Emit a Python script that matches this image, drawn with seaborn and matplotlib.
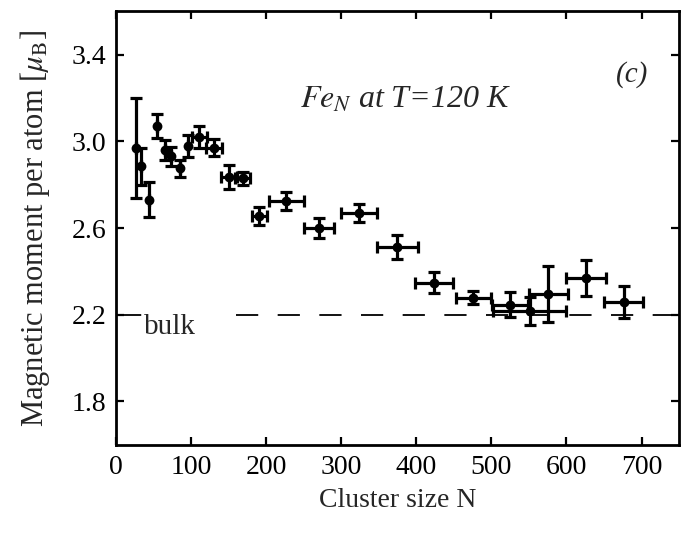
import numpy as np
import pandas as pd
import matplotlib
matplotlib.use("Agg")
import matplotlib.pyplot as plt
import seaborn as sns

# ---- data ----
cluster_size = [27, 33, 44, 55, 66, 73, 86, 96, 111, 131, 151, 169, 191, 227,
                270, 324, 375, 424, 476, 525, 551, 576, 626, 676]
moment = [2.97, 2.885, 2.73, 3.07, 2.96, 2.93, 2.876, 2.977, 3.02, 2.97, 2.835, 2.83,
          2.655, 2.724, 2.60, 2.67, 2.513, 2.347, 2.278, 2.246, 2.218, 2.297, 2.37, 2.26]
moment_err = [0.23, 0.085, 0.08, 0.055, 0.045, 0.045, 0.04, 0.05, 0.05, 0.04, 0.057, 0.03,
              0.04, 0.04, 0.045, 0.04, 0.057, 0.048, 0.03, 0.057, 0.065, 0.13, 0.083, 0.073]
size_err = [0, 0, 0, 0, 0, 0, 0, 0, 10, 11, 11, 10, 10, 23,
            20, 24, 27, 25, 23, 24, 49, 26, 26, 26]
bulk_value = 2.2
x_ticks = [0, 100, 200, 300, 400, 500, 600, 700]
y_ticks = [1.8, 2.2, 2.6, 3.0, 3.4]

df = pd.DataFrame({"N": cluster_size, "m": moment})

sns.set_style("ticks")
plt.rcParams["font.family"] = ["Liberation Serif", "DejaVu Serif"]
plt.rcParams["mathtext.fontset"] = "stix"
plt.rcParams["lines.scale_dashes"] = False

fig = plt.figure(figsize=(6.93, 5.34), dpi=100)
ax = fig.add_axes([0.167, 0.167, 0.813, 0.812])

ax.errorbar(cluster_size, moment, yerr=moment_err, xerr=size_err, fmt="none",
            ecolor="black", elinewidth=2.3, capsize=4.5, capthick=2.3, zorder=2)
sns.scatterplot(data=df, x="N", y="m", ax=ax, color="black", s=50,
                edgecolor="black", linewidth=0, zorder=3, legend=False)

# dashed bulk reference line, interrupted by the "bulk" label
ax.hlines(bulk_value, 5, 42, colors="black", linewidth=1.3,
          linestyles=(0, (16, 14)), zorder=1)
ax.hlines(bulk_value, 160, 740, colors="black", linewidth=1.3,
          linestyles=(0, (16, 14)), zorder=1)
ax.text(38, 2.205, "bulk", fontsize=21, va="top", ha="left")

ax.text(0.515, 0.795, r"$\mathit{Fe_N}$ at T=120 K", transform=ax.transAxes,
        fontsize=23, fontstyle="italic", ha="center", va="center")
ax.text(0.945, 0.855, "(c)", transform=ax.transAxes, fontsize=21,
        fontstyle="italic", ha="right", va="center")

ax.set_xlim(0, 750)
ax.set_ylim(1.6, 3.6)
ax.set_xticks(x_ticks)
ax.set_yticks(y_ticks)
ax.set_yticklabels([f"{v:.1f}" for v in y_ticks])
ax.tick_params(direction="in", top=True, right=True, length=6, width=1.6,
               labelsize=20, pad=7, colors="black")
for s in ax.spines.values():
    s.set_linewidth(2.0)
    s.set_color("black")

ax.set_xlabel("Cluster size N", fontsize=20, labelpad=6)
ax.set_ylabel(r"Magnetic moment per atom [$\mu_{\mathrm{B}}$]", fontsize=22, labelpad=14)

fig.savefig("out.png", dpi=100)
